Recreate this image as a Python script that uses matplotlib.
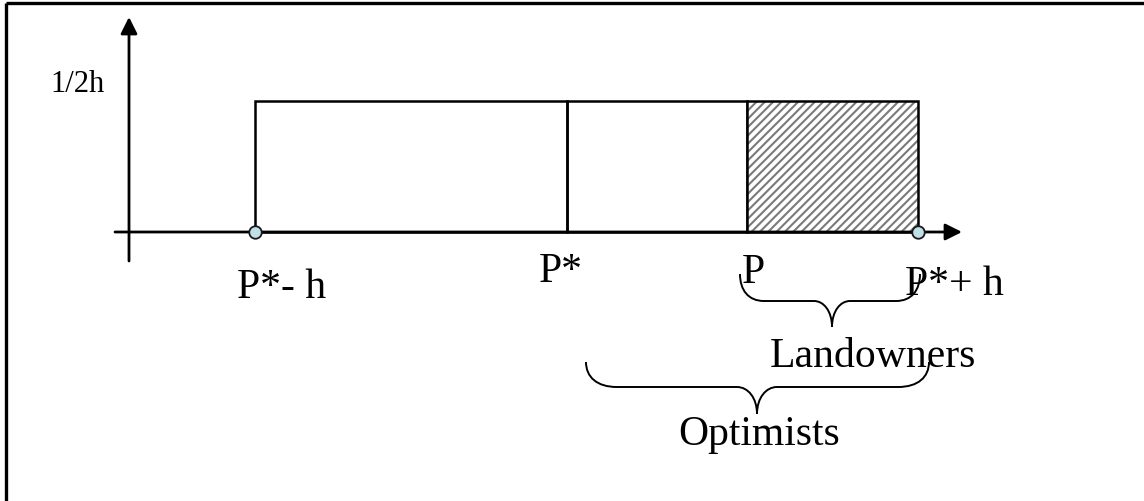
import matplotlib
matplotlib.use("Agg")
import matplotlib.pyplot as plt
from matplotlib.path import Path
from matplotlib.patches import PathPatch

plt.rcParams['font.family'] = ['Liberation Serif', 'DejaVu Serif']
plt.rcParams['hatch.linewidth'] = 1.5

# ---- data (diagram units = pixel-like coordinates of the sketch) ----
point_labels = ["P*- h", "P*", "P", "P*+ h"]
point_x = [255, 567, 747, 918]          # P*-h, P*, P, P*+h
density_label = "1/2h"
density_level = 102                      # height of uniform density (screen y)
axis_level = 233                         # x-axis (screen y)
group_labels = ["Landowners", "Optimists"]
group_spans = [(740, 920), (586, 929)]

fig = plt.figure(figsize=(11.44, 5.02), dpi=100)
ax = fig.add_axes([0, 0, 1, 1])
ax.set_xlim(0, 1144)
ax.set_ylim(502, 0)
ax.axis('off')

# outer frame (top and left visible)
ax.plot([6, 1144], [4, 4], color='black', lw=2.4, solid_capstyle='butt')
ax.plot([6, 6], [4, 502], color='black', lw=2.4, solid_capstyle='butt')

# axes with arrows
arrow = dict(arrowstyle='-|>,head_length=0.5,head_width=0.25', mutation_scale=20,
             lw=2.0, color='black', shrinkA=0, shrinkB=0)
ax.annotate('', xy=(962, axis_level), xytext=(115, axis_level), arrowprops=arrow)
ax.annotate('', xy=(129, 18), xytext=(129, 262), arrowprops=arrow)

# uniform density bars
h = density_level - axis_level
segs = list(zip(point_x[:-1], point_x[1:]))
for i, (a, b) in enumerate(segs):
    if i == len(segs) - 1:
        ax.bar(a, h, width=b - a, bottom=axis_level, align='edge',
               facecolor='white', edgecolor='#7a7a7a', hatch='////', lw=0)
    ax.bar(a, h, width=b - a, bottom=axis_level, align='edge',
           fill=False, edgecolor='black', lw=1.8)

# endpoint circles
ax.plot([point_x[0], point_x[-1]], [axis_level, axis_level], 'o', ms=9,
        mfc='#bfe0e6', mec='#1a1a1a', mew=1.3, zorder=5)

# labels
ax.text(50, 92, density_label, fontsize=22, ha='left', va='baseline')
offsets = [(-18, 298), (-28, 282), (-5, 283), (-13, 295)]
for lab, x, (dx, yb) in zip(point_labels, point_x, offsets):
    ax.text(x + dx, yb, lab, fontsize=30, ha='left', va='baseline')


def brace(x0, x1, y0, y1, y2, xc, r, r2):
    verts = [(x0, y0),
             (x0, y0 + 0.6 * (y1 - y0)), (x0 + 0.35 * r, y1), (x0 + r, y1),
             (xc - r2, y1),
             (xc - 0.45 * r2, y1), (xc, y1 + 0.4 * (y2 - y1)), (xc, y2),
             (xc, y1 + 0.4 * (y2 - y1)), (xc + 0.45 * r2, y1), (xc + r2, y1),
             (x1 - r, y1),
             (x1 - 0.35 * r, y1), (x1, y0 + 0.6 * (y1 - y0)), (x1, y0)]
    codes = [Path.MOVETO, Path.CURVE4, Path.CURVE4, Path.CURVE4, Path.LINETO,
             Path.CURVE4, Path.CURVE4, Path.CURVE4,
             Path.CURVE4, Path.CURVE4, Path.CURVE4, Path.LINETO,
             Path.CURVE4, Path.CURVE4, Path.CURVE4]
    ax.add_patch(PathPatch(Path(verts, codes), fill=False, lw=1.4, color='black'))


(l0, l1), (o0, o1) = group_spans
brace(l0, l1, 275, 302, 328, 832, 24, 18)
brace(o0, o1, 363, 388, 415, 757, 31, 20)
ax.text(770, 367, group_labels[0], fontsize=30, ha='left', va='baseline')
ax.text(678, 445, group_labels[1], fontsize=30, ha='left', va='baseline')

fig.savefig('out.png', dpi=100)
